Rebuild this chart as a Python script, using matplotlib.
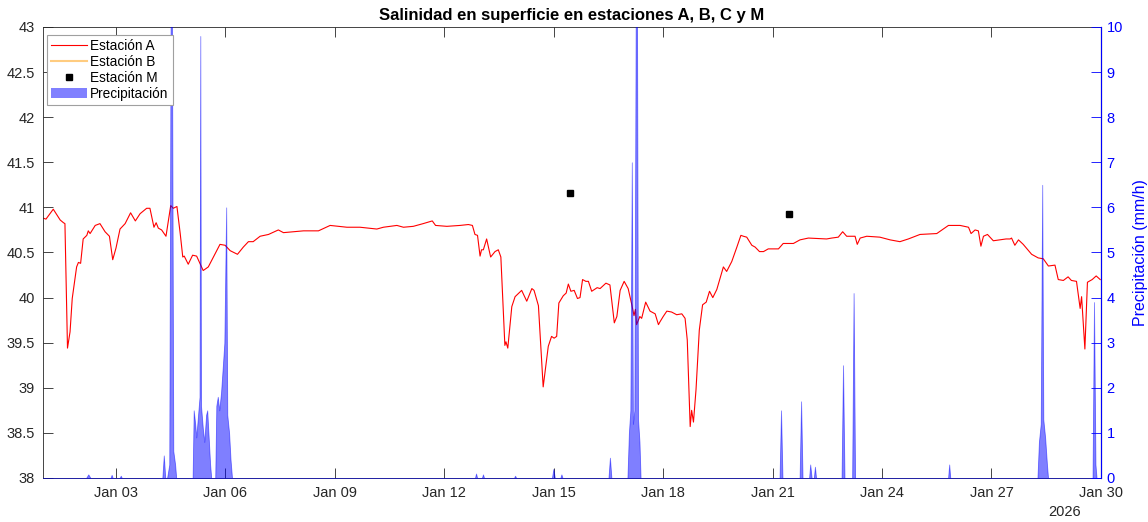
import numpy as np
import matplotlib
matplotlib.use('Agg')
import matplotlib.pyplot as plt
import matplotlib.dates as mdates
from matplotlib.lines import Line2D
from matplotlib.patches import Patch

plt.rcParams['font.family'] = ['Liberation Sans', 'DejaVu Sans']

# salinidad estacion A (dias desde 2026-01-01, psu)
dias_a = [0.01, 0.08, 0.28, 0.47, 0.56, 0.60, 0.67, 0.74, 0.80, 0.92, 0.97, 1.03, 1.10, 1.20,
          1.24, 1.29, 1.43, 1.56, 1.70, 1.82, 1.91, 2.00, 2.11, 2.25, 2.40, 2.53, 2.66, 2.84,
          2.93, 3.04, 3.10, 3.16, 3.25, 3.37, 3.50, 3.57, 3.67, 3.76, 3.83, 3.87, 3.98, 4.10,
          4.21, 4.39, 4.53, 4.85, 4.99, 5.13, 5.33, 5.49, 5.63, 5.76, 5.95, 6.18, 6.45, 6.59,
          6.86, 7.14, 7.55, 7.87, 8.33, 8.69, 9.15, 9.33, 9.70, 9.88, 10.15, 10.42, 10.67, 10.76,
          11.07, 11.43, 11.66, 11.77, 11.84, 11.91, 11.98, 12.02, 12.07, 12.16, 12.27, 12.39,
          12.48, 12.55, 12.66, 12.69, 12.74, 12.85, 12.94, 13.12, 13.26, 13.40, 13.46, 13.58,
          13.71, 13.85, 13.94, 14.01, 14.08, 14.14, 14.26, 14.34, 14.40, 14.47, 14.56, 14.65,
          14.72, 14.79, 14.88, 14.95, 15.04, 15.19, 15.27, 15.43, 15.54, 15.66, 15.73, 15.82,
          15.93, 16.04, 16.14, 16.20, 16.24, 16.27, 16.36, 16.41, 16.52, 16.64, 16.78, 16.87,
          16.91, 17.00, 17.10, 17.23, 17.37, 17.51, 17.60, 17.66, 17.74, 17.78, 17.83, 17.90,
          17.99, 18.08, 18.18, 18.27, 18.36, 18.47, 18.65, 18.74, 18.88, 19.02, 19.13, 19.20,
          19.29, 19.43, 19.52, 19.64, 19.75, 19.88, 20.16, 20.29, 20.57, 20.75, 20.98, 21.48,
          21.62, 21.80, 21.92, 22.03, 22.26, 22.32, 22.40, 22.58, 22.94, 23.22, 23.49, 23.72,
          24.04, 24.50, 24.64, 24.82, 25.14, 25.37, 25.44, 25.55, 25.64, 25.71, 25.78, 25.89,
          26.05, 26.23, 26.40, 26.51, 26.55, 26.64, 26.74, 26.87, 27.10, 27.28, 27.42, 27.56,
          27.74, 27.83, 27.97, 28.10, 28.19, 28.33, 28.43, 28.47, 28.56, 28.63, 28.76, 28.87,
          28.98]
sal_a = [40.88, 40.87, 40.98, 40.86, 40.83, 40.82, 39.44, 39.62, 39.99, 40.34, 40.39, 40.38,
         40.65, 40.69, 40.74, 40.71, 40.80, 40.82, 40.73, 40.68, 40.42, 40.55, 40.76, 40.82,
         40.94, 40.85, 40.93, 40.99, 40.99, 40.78, 40.83, 40.77, 40.75, 40.68, 41.02, 40.99,
         41.01, 40.71, 40.45, 40.46, 40.37, 40.47, 40.46, 40.30, 40.34, 40.59, 40.58, 40.52,
         40.48, 40.56, 40.62, 40.62, 40.68, 40.70, 40.75, 40.72, 40.73, 40.74, 40.74, 40.80,
         40.78, 40.78, 40.76, 40.78, 40.80, 40.78, 40.79, 40.82, 40.85, 40.80, 40.79, 40.80,
         40.81, 40.80, 40.70, 40.69, 40.46, 40.53, 40.53, 40.65, 40.45, 40.51, 40.53, 40.45,
         39.47, 39.51, 39.44, 39.90, 40.01, 40.08, 39.96, 40.10, 40.08, 39.91, 39.01, 39.46,
         39.57, 39.55, 39.57, 39.94, 40.02, 40.05, 40.15, 40.07, 40.08, 39.99, 40.00, 40.20,
         40.18, 40.18, 40.07, 40.11, 40.10, 40.16, 40.14, 39.72, 39.79, 40.08, 40.18, 40.10,
         39.92, 39.80, 39.87, 39.70, 39.79, 39.77, 39.95, 39.85, 39.82, 39.70, 39.73, 39.79,
         39.85, 39.84, 39.81, 39.82, 39.77, 39.53, 38.57, 38.75, 38.62, 38.98, 39.64, 39.92,
         39.95, 40.07, 40.00, 40.09, 40.34, 40.29, 40.40, 40.56, 40.69, 40.68, 40.67, 40.58,
         40.56, 40.51, 40.51, 40.54, 40.54, 40.60, 40.60, 40.64, 40.66, 40.65, 40.66, 40.67,
         40.73, 40.68, 40.68, 40.59, 40.66, 40.68, 40.67, 40.64, 40.62, 40.65, 40.70, 40.71,
         40.75, 40.80, 40.80, 40.78, 40.71, 40.75, 40.74, 40.57, 40.68, 40.70, 40.63, 40.64,
         40.65, 40.65, 40.66, 40.58, 40.64, 40.59, 40.48, 40.44, 40.43, 40.35, 40.36, 40.20,
         40.19, 40.23, 40.19, 40.18, 39.88, 40.01, 39.43, 40.17, 40.20, 40.24, 40.20]

# estacion M (muestras puntuales)
dias_m = [14.45, 20.45]
sal_m = [41.16, 40.93]

# precipitacion (mm/h)
dias_p = [0.00, 1.18, 1.24, 1.30, 1.85, 1.88, 1.91, 2.10, 2.13, 2.16, 3.27, 3.31, 3.35, 3.40,
          3.46, 3.50, 3.53, 3.57, 3.62, 3.65, 4.10, 4.13, 4.17, 4.20, 4.24, 4.29, 4.31, 4.33,
          4.38, 4.42, 4.47, 4.50, 4.54, 4.58, 4.61, 4.72, 4.75, 4.79, 4.83, 4.88, 4.93, 4.97,
          5.02, 5.05, 5.10, 5.14, 5.18, 11.84, 11.87, 11.90, 12.03, 12.06, 12.09, 12.91, 12.94,
          12.97, 13.95, 13.99, 14.03, 14.18, 14.21, 14.24, 15.50, 15.54, 15.58, 16.02, 16.06,
          16.10, 16.14, 16.17, 16.21, 16.25, 16.28, 16.31, 16.35, 16.38, 20.19, 20.23, 20.27,
          20.74, 20.78, 20.82, 21.00, 21.03, 21.07, 21.13, 21.16, 21.19, 21.89, 21.93, 21.97,
          22.18, 22.22, 22.26, 24.81, 24.84, 24.87, 27.26, 27.30, 27.35, 27.39, 27.42, 27.47,
          27.52, 27.55, 28.77, 28.81, 28.85, 28.88, 29.00]
precip = [0, 0, 0.08, 0, 0, 0.07, 0, 0, 0.05, 0, 0, 0.5, 0, 0,
          0.3, 11, 11, 0.6, 0.3, 0, 0, 1.5, 1.2, 0.9, 1.3, 1.8, 9.8, 1.6,
          1.1, 0.8, 1.4, 1.5, 0.9, 0.3, 0, 0, 1.6, 1.8, 1.5, 1.9, 2.5, 3.0,
          6.0, 1.4, 1.0, 0.4, 0, 0, 0.1, 0, 0, 0.08, 0, 0, 0.05,
          0, 0, 0.2, 0, 0, 0.08, 0, 0, 0.45, 0, 0, 1.0,
          1.5, 7.0, 1.2, 1.5, 11, 11, 1.3, 0.8, 0, 0, 1.5, 0,
          0, 1.7, 0, 0, 0.3, 0, 0, 0.25, 0, 0, 2.5, 0,
          0, 4.1, 0, 0, 0.3, 0, 0, 0.8, 1.2, 6.5, 1.3, 0.9,
          0.3, 0, 0, 3.9, 0.3, 0, 0]

t0 = np.datetime64('2026-01-01T00:00')


def to_time(d):
    return t0 + (np.asarray(d) * 86400).astype('timedelta64[s]')


ta = to_time(dias_a)
tm = to_time(dias_m)
tp = to_time(dias_p)

gris = '#262626'
fig = plt.figure(figsize=(11.48, 5.22), dpi=100)
ax1 = fig.add_axes([0.0375, 0.0843, 0.9215, 0.8640])
ax2 = ax1.twinx()

ax1.plot(ta, sal_a, color='#ff0000', lw=0.8)
ax1.plot(tm, sal_m, 's', color='black', ms=4.5)
ax1.set_ylim(38, 43)
ax1.set_yticks(np.arange(38, 43.01, 0.5))
ax1.set_yticklabels(['38', '38.5', '39', '39.5', '40', '40.5', '41', '41.5', '42', '42.5', '43'])

ax2.fill_between(tp, 0, precip, color='blue', alpha=0.5, lw=0.6)
ax2.set_ylim(0, 10)
ax2.set_yticks(range(0, 11))
ax2.set_ylabel('Precipitación (mm/h)', color='blue', fontsize=11.5, labelpad=7)

ax1.set_xlim(to_time(0), to_time(29))
xt = to_time([2, 5, 8, 11, 14, 17, 20, 23, 26, 29])
ax1.set_xticks(xt)
ax1.xaxis.set_major_formatter(mdates.DateFormatter('%b %d'))

ax1.tick_params(axis='both', direction='in', length=7.5, width=0.6, labelsize=10.5,
                colors=gris, top=True, pad=6)
ax2.tick_params(axis='y', direction='in', length=7.5, width=0.6, labelsize=10.5,
                colors='blue', pad=4)
for s in ['left', 'top', 'bottom']:
    ax1.spines[s].set_color(gris)
    ax1.spines[s].set_linewidth(0.6)
ax2.spines['right'].set_color('blue')
ax2.spines['right'].set_linewidth(0.8)
for s in ['left', 'top', 'bottom']:
    ax2.spines[s].set_visible(False)

fig.text(1065 / 1148, 1 - 512 / 522, '2026', ha='center', va='center', fontsize=10.5, color=gris)
ax1.set_title('Salinidad en superficie en estaciones A, B, C y M', fontsize=12,
              fontweight='bold', pad=5)

handles = [Line2D([], [], color='#ff0000', lw=0.8),
           Line2D([], [], color='#ffcc80', lw=1.5),
           Line2D([], [], ls='none', marker='s', color='black', ms=4.5),
           Patch(facecolor='#8080ff', edgecolor='none')]
labels = ['Estación A', 'Estación B', 'Estación M', 'Precipitación']
leg = ax2.legend(handles, labels, loc='upper left', bbox_to_anchor=(0.004, 0.982),
                 fontsize=9.8, frameon=True, fancybox=False, framealpha=1,
                 edgecolor='#a0a0a0', handlelength=2.6, handletextpad=0.25,
                 labelspacing=0.14, borderpad=0.3, borderaxespad=0)
leg.get_frame().set_linewidth(0.8)

fig.savefig('out.png', dpi=100)
